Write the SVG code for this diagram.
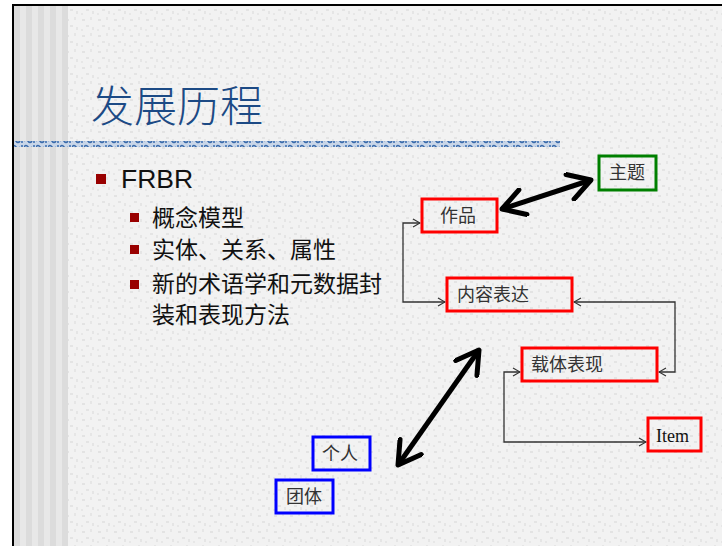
<svg xmlns="http://www.w3.org/2000/svg" width="722" height="546" viewBox="0 0 722 546">
<defs>
<pattern id="tex" width="16" height="16" patternUnits="userSpaceOnUse">
<rect width="16" height="16" fill="#f2f2f2"/>
<rect x="2" y="3" width="3" height="2" fill="#e3e3e3"/>
<rect x="10" y="1" width="2" height="3" fill="#e6e6e6"/>
<rect x="6" y="9" width="3" height="2" fill="#e4e4e4"/>
<rect x="12" y="11" width="2" height="3" fill="#e5e5e5"/>
<rect x="1" y="13" width="2" height="2" fill="#e7e7e7"/>
</pattern>
<pattern id="dots" width="12" height="6" patternUnits="userSpaceOnUse">
<rect width="12" height="6" fill="#c9d6e8"/>
<path d="M0,3 Q2,0 4,3 T8,3" stroke="#3a6bab" stroke-width="1.6" fill="none"/>
<rect x="9" y="1" width="2" height="4" fill="#5c86bd"/>
</pattern>
<marker id="big" viewBox="0 0 30 30" refX="27" refY="15" markerWidth="30" markerHeight="30" markerUnits="userSpaceOnUse" orient="auto-start-reverse">
<path d="M5,2 L27,15 L5,28" fill="none" stroke="#000" stroke-width="5" stroke-linecap="round" stroke-linejoin="round"/>
</marker>
<marker id="sm" viewBox="0 0 10 10" refX="9" refY="5" markerWidth="10" markerHeight="10" markerUnits="userSpaceOnUse" orient="auto-start-reverse">
<path d="M2,1 L9,5 L2,9" fill="none" stroke="#333" stroke-width="1.2"/>
</marker>
<style>
.bx{fill:none;stroke-width:3}
.red{stroke:#ff0000}
.grn{stroke:#008000}
.blu{stroke:#0000ff}
.lbl{font-family:"Noto Sans CJK SC","Liberation Serif",serif;font-size:18px;fill:#333}
.bul{font-family:"Noto Sans CJK SC",sans-serif;font-size:23px;fill:#111}
.con{fill:none;stroke:#333;stroke-width:1.3}
.thick{fill:none;stroke:#000;stroke-width:5}
</style>
</defs>
<rect width="722" height="546" fill="#ffffff"/>
<rect x="14" y="6" width="708" height="540" fill="url(#tex)"/>
<g id="stripes">
<rect x="14" y="6" width="54" height="540" fill="#e8e8e8"/>
<rect x="14" y="6" width="6" height="540" fill="#dcdcdc"/>
<rect x="26" y="6" width="6" height="540" fill="#dcdcdc"/>
<rect x="38" y="6" width="6" height="540" fill="#dcdcdc"/>
<rect x="50" y="6" width="6" height="540" fill="#dcdcdc"/>
<rect x="62" y="6" width="6" height="540" fill="#dcdcdc"/>
</g>
<rect x="12" y="4" width="710" height="2" fill="#000"/>
<rect x="12" y="4" width="2" height="542" fill="#000"/>
<rect x="14" y="141" width="546" height="6" fill="url(#dots)"/>
<text x="91" y="122" font-family="Noto Sans CJK SC, sans-serif" font-size="43" font-weight="300" fill="#1c4a85">发展历程</text>
<g id="bullets">
<rect x="96" y="174" width="10" height="10" fill="#990000"/>
<text x="121" y="188" font-family="Liberation Sans, Arial, sans-serif" font-size="26.5" fill="#111">FRBR</text>
<rect x="130" y="213" width="9" height="9" fill="#990000"/>
<text x="152" y="226" class="bul">概念模型</text>
<rect x="130" y="245" width="9" height="9" fill="#990000"/>
<text x="152" y="258" class="bul">实体、关系、属性</text>
<rect x="130" y="280" width="9" height="9" fill="#990000"/>
<text x="152" y="292" class="bul">新的术语学和元数据封</text>
<text x="152" y="323" class="bul">装和表现方法</text>
</g>
<g id="connectors">
<polyline class="con" points="420,223 403,223 403,302 445,302" marker-start="url(#sm)" marker-end="url(#sm)"/>
<polyline class="con" points="574,302 675,302 675,372 659,372" marker-start="url(#sm)" marker-end="url(#sm)"/>
<polyline class="con" points="520,372 504,372 504,442 646,442" marker-start="url(#sm)" marker-end="url(#sm)"/>
<line class="thick" x1="502" y1="209" x2="591" y2="180" marker-start="url(#big)" marker-end="url(#big)"/>
<line class="thick" x1="398" y1="465" x2="479" y2="350" marker-start="url(#big)" marker-end="url(#big)"/>
</g>
<g id="n-zuopin"><rect class="bx red" x="422" y="199" width="75" height="33"/><text class="lbl" x="440" y="222">作品</text></g>
<g id="n-zhuti"><rect class="bx grn" x="599" y="156" width="57" height="34"/><text class="lbl" x="609" y="179">主题</text></g>
<g id="n-neirong"><rect class="bx red" x="447" y="278" width="125" height="33"/><text class="lbl" x="457" y="301">内容表达</text></g>
<g id="n-zaiti"><rect class="bx red" x="522" y="348" width="135" height="33"/><text class="lbl" x="531" y="371">载体表现</text></g>
<g id="n-item"><rect class="bx red" x="648" y="418" width="53" height="33"/><text x="656" y="442" font-family="Liberation Serif, serif" font-size="18" fill="#111">Item</text></g>
<g id="n-geren"><rect class="bx blu" x="313" y="437" width="57" height="33"/><text class="lbl" x="322" y="460">个人</text></g>
<g id="n-tuanti"><rect class="bx blu" x="276" y="480" width="57" height="33"/><text class="lbl" x="286" y="503">团体</text></g>
</svg>
